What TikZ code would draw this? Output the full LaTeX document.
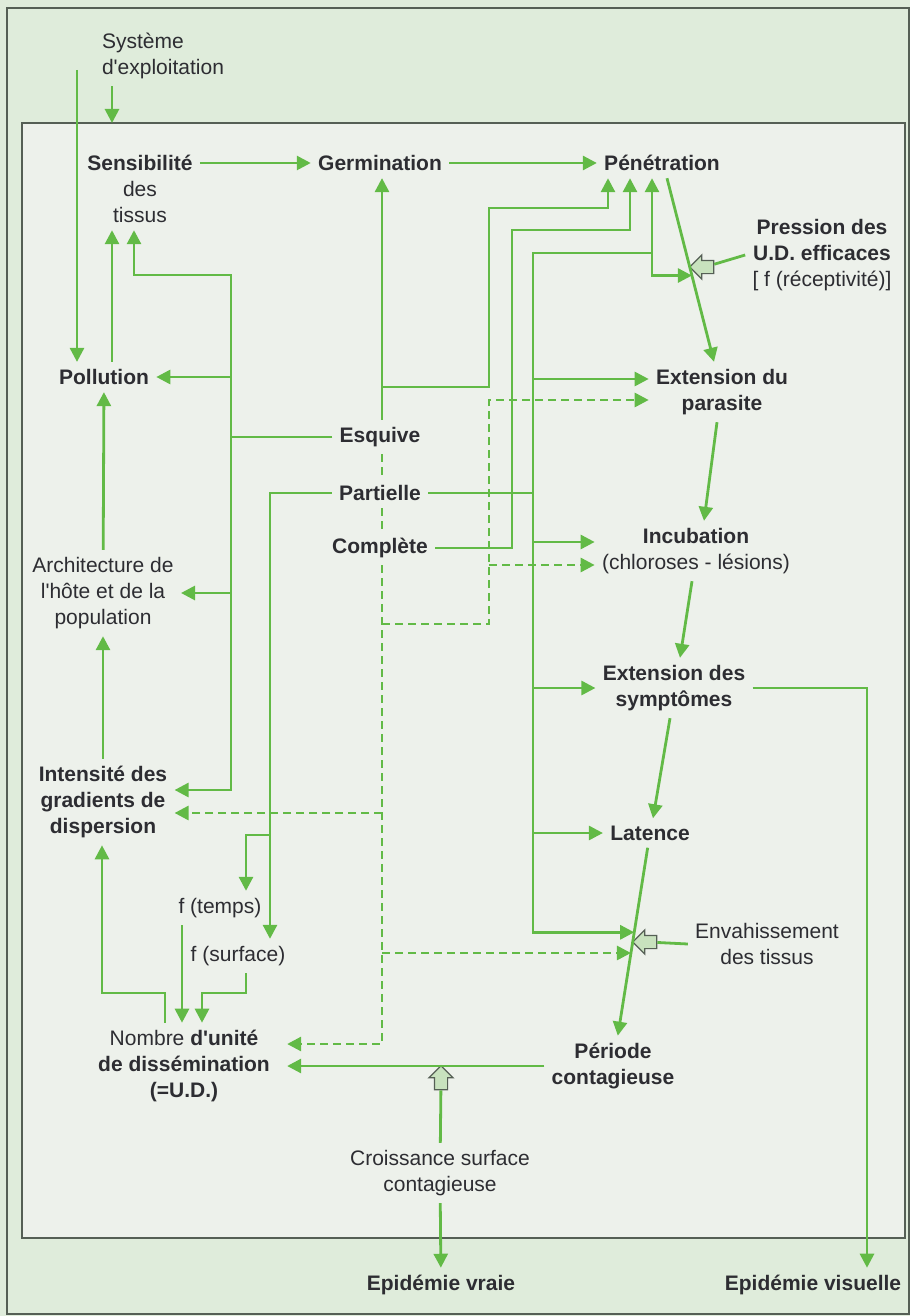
\documentclass[tikz,border=0pt]{standalone}
\usepackage{fontspec}
\setmainfont{Liberation Sans}
\usetikzlibrary{arrows.meta}
\usetikzlibrary{shapes.arrows}
\definecolor{leaf}{RGB}{98,186,70}
\definecolor{ink}{RGB}{45,45,50}
\definecolor{frame}{RGB}{85,95,85}
\definecolor{outerbg}{RGB}{223,236,219}
\definecolor{innerbg}{RGB}{237,241,235}
\definecolor{pale}{RGB}{200,226,190}
\newcommand{\apos}{\textquotesingle}
\begin{document}
\begin{tikzpicture}[x=0.5pt,y=-0.5pt,->,>={Triangle[length=7pt,width=7pt]},line width=1.4pt,
    main node/.style={font=\fontsize{10.5}{13}\selectfont\bfseries,align=center,text=ink,inner sep=3pt},
    small node/.style={font=\fontsize{10.5}{13}\selectfont,align=center,text=ink,inner sep=3pt},
    link/.style={leaf}, dash link/.style={leaf,dash pattern=on 4pt off 2.5pt},
    hollow/.style={-,single arrow,draw=frame,fill=pale,line width=0.6pt,minimum height=12pt,
      minimum width=11.5pt,single arrow head extend=2.75pt,inner sep=0pt}]
  \useasboundingbox (0,0) rectangle (910,1316);
  \fill[outerbg] (0,0) rectangle (910,1316);
  \draw[-,frame,line width=0.8pt] (7,8) rectangle (909,1314);
  \draw[-,frame,line width=0.8pt,fill=innerbg] (22,123) rectangle (905,1238);

  % left column
  \node[small node,align=left] (sys) at (163,56) {Système\\d\apos exploitation};
  \node[small node] (sens) at (140,189) {\textbf{Sensibilité}\\des\\tissus};
  \node[main node] (poll) at (104,377) {Pollution};
  \node[small node] (arch) at (103,593) {Architecture de\\l\apos hôte et de la\\population};
  \node[main node] (inten) at (103,802) {Intensité des\\gradients de\\dispersion};
  \node[small node] (ftemps) at (220,908) {f (temps)};
  \node[small node] (fsurf) at (238,956) {f (surface)};
  \node[small node] (nombre) at (184,1066) {Nombre \textbf{d\apos unité}\\\textbf{de dissémination}\\\textbf{(=U.D.)}};
  % middle
  \node[main node] (germ) at (380,163) {Germination};
  \node[main node] (esq) at (380,437) {Esquive};
  \node[main node] (part) at (380,493) {Partielle};
  \node[main node] (comp) at (380,548) {Complète};
  \node[small node] (crois) at (440,1173) {Croissance surface\\contagieuse};
  \node[main node] (epiv) at (441,1285) {Epidémie vraie};
  % right column
  \node[main node] (pene) at (662,163) {Pénétration};
  \node[small node] (press) at (822,255) {\textbf{Pression des}\\\textbf{U.D. efficaces}\\{}[ f (réceptivité)]};
  \node[main node] (extp) at (722,392) {Extension du\\parasite};
  \node[small node] (incub) at (696,551) {\textbf{Incubation}\\(chloroses - lésions)};
  \node[main node] (exts) at (674,688) {Extension des\\symptômes};
  \node[main node] (lat) at (650,833) {Latence};
  \node[small node] (envah) at (767,944) {Envahissement\\des tissus};
  \node[main node] (periode) at (613,1066) {Période\\contagieuse};
  \node[main node] (epivis) at (813,1285) {Epidémie visuelle};
  % hollow arrows
  \node[hollow,rotate=180] (pa) at (705,267) {\rule{0pt}{6pt}};
  \node[hollow,rotate=180] (pb) at (648,942) {\rule{0pt}{6pt}};
  \node[hollow,rotate=90] (pc) at (441,1081) {\rule{0pt}{6pt}};

  \coordinate (boxtop) at (112,123);
  \coordinate (sysL) at (77,70);
  \coordinate (esqL) at (231,437);
  \coordinate (esqR) at (382,387);
  \coordinate (p1) at (489,208);
  \coordinate (p2) at (512,230);
  \coordinate (p3) at (652,253);
  \coordinate (pj) at (533,493);
  \coordinate (ft) at (270,835);
  \coordinate (dj) at (382,624);
  \coordinate (dk) at (489,400);
  \coordinate (di) at (489,565);
  \coordinate (dl) at (382,813);

  % main chain
  \draw[link] (sys.south -| boxtop) -- (boxtop);
  \draw[link] (sysL) -- (sysL |- poll.north);
  \draw[link] (sens.east |- germ) -- (germ);
  \draw[link] (germ) -- (pene);
  \draw[link] ([xshift=2.5pt]pene.south) -- coordinate[pos=0.53] (pd) ([xshift=-4pt]extp.north);
  \draw[link] ([xshift=-2.5pt]extp.south) -- ([xshift=4pt]incub.north);
  \draw[link] ([xshift=-2pt]incub.south) -- ([xshift=3pt]exts.north);
  \draw[link] ([xshift=-2pt]exts.south) -- ([xshift=1.5pt]lat.north);
  \draw[link] (lat) -- coordinate[pos=0.45] (lp1) coordinate[pos=0.56] (lp2) (periode);
  \draw[link] (periode) -- ([xshift=5pt]nombre.east);
  \draw[link] (exts) -| ([xshift=27pt]epivis.north);
  \draw[link] (crois) -- (epiv);
  \draw[link,-] (crois) -- (pc);
  \draw[link,-] (press.west) -- (pa);
  \draw[link,-] (envah.west) -- (pb);

  % left column
  \draw[link] (poll.north -| 112,0) -- (sens.south -| 112,0);
  \draw[link] (arch) -- (poll);
  \draw[link] (inten) -- (arch);
  \draw[link] (nombre.north -| 165,0) |- (102,993) -- (inten.south -| 102,0);
  \draw[link] (ftemps.south -| 182,0) -- (nombre.north -| 182,0);
  \draw[link] (fsurf.south -| 246,0) |- (202,993) -- (nombre.north -| 202,0);

  % esquive
  \draw[link,-] (esq) -- (esqL);
  \draw[link] (esqL) |- (134,275) -- (sens.south -| 134,0);
  \draw[link] (esqL) |- (poll);
  \draw[link] (esqL) |- (arch);
  \draw[link] (esqL) |- ([yshift=6pt]inten.east);
  \draw[link] (esq.north -| esqR) -- (germ.south -| esqR);
  \draw[link] (esqR) -| (p1) -| (pene.south -| 608,0);
  \draw[dash link,-] (esq.south -| esqR) -- (part.north -| esqR);
  \draw[dash link,-] (part.south -| esqR) -- (comp.north -| esqR);
  \draw[dash link] (comp.south -| esqR) |- ([shift={(5pt,11pt)}]nombre.east);
  \draw[dash link] (dj) -| (dk) -- (dk -| extp.west);
  \draw[dash link] (di) -- (di -| incub.west);
  \draw[dash link] (dl) -- (dl -| inten.east);
  \draw[dash link] (lp2 -| esqR) -- (lp2);

  % partielle
  \draw[link,-] (part) -- (pj);
  \draw[link] (pj) |- (p3) -- (pene.south -| p3);
  \draw[link] (p3) |- (pd);
  \draw[link] (pj) |- ([yshift=6.5pt]extp.west);
  \draw[link] (pj) |- ([yshift=4.5pt]incub.west);
  \draw[link] (pj) |- (exts);
  \draw[link] (pj) |- (lat);
  \draw[link] (pj) |- (lp1);
  \draw[link] (part) -| (fsurf.north -| ft);
  \draw[link] (ft) -| (ftemps.north -| 246,0);

  % complete
  \draw[link] (comp) -| (p2) -| (pene.south -| 630,0);
\end{tikzpicture}
\end{document}
